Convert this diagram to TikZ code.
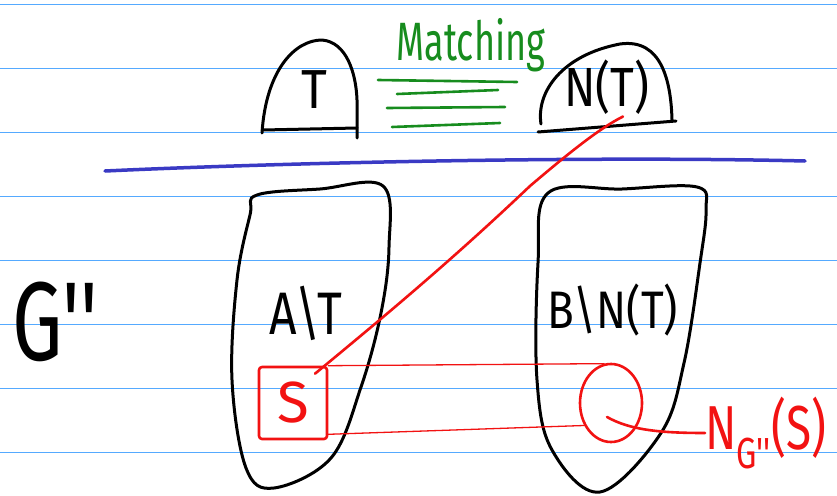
\documentclass[tikz,border=0pt]{standalone}
\usepackage{fontspec}
\setmainfont{Fira Sans}
\usetikzlibrary{shapes.geometric,calc}
\definecolor{rulecol}{HTML}{55AAFF}
\definecolor{sepcol}{HTML}{3A3AC4}
\definecolor{redpen}{HTML}{F21212}
\definecolor{greenpen}{HTML}{178C1E}
\newcommand{\fs}[1]{\fontsize{#1}{#1}\selectfont}
\begin{document}
\begin{tikzpicture}[x=1pt,y=-1pt,line cap=round,line join=round,
  blob/.style={draw=black,line width=3pt},
  redthick/.style={draw=redpen,line width=2.6pt},
  redthin/.style={draw=redpen,line width=1.3pt},
  greenstroke/.style={draw=greenpen,line width=2.6pt},
  lbl/.style={inner sep=0pt,text=black},
  redlbl/.style={inner sep=0pt,text=redpen}]
\useasboundingbox (0,0) rectangle (837,495);
\fill[white] (0,0) rectangle (837,495);
\foreach \y in {4.5,68.5,132.5,196.5,260.5,324.5,388.5,452.5}
  \draw[rulecol,line width=1.3pt] (0,\y) -- (837,\y);
% separator
\draw[sepcol,line width=3.5pt] (105,171) .. controls (300,162) and (600,156) .. (805,161);
% T dome
\draw[blob] (262,133) .. controls (266,70) and (295,40) .. (322,40)
  .. controls (346,42) and (356,72) .. (357,100) -- (357,138);
\draw[blob] (263,130) -- (357,128);
% N(T) dome
\draw[blob] (541,124) .. controls (536,92) and (562,55) .. (620,44)
  .. controls (662,38) and (671,82) .. (672,120);
\draw[blob] (538,132) -- (676,121);
% labels top
\node[lbl,font=\fs{50}] (T) at (314,90) {\scalebox{1}[1.1]{T}};
\node[lbl,font=\fs{46}] (NT) at (607,87) {\scalebox{1}[1.2]{N(T)}};
% Matching
\node[inner sep=0pt,text=greenpen,font=\fs{36}] (M) at (471,45) {\scalebox{1}[1.5]{Matching}};
\draw[greenstroke] (378,80) -- (517,82);
\draw[greenstroke] (397,94) -- (498,90);
\draw[greenstroke] (387,108) -- (505,107);
\draw[greenstroke] (392,127) -- (500,123);
% left blob
\draw[blob] plot[smooth cycle,tension=0.6] coordinates
  {(257,195) (320,189) (383,186) (389,247) (381,313) (361,387) (331,458) (274,488) (246,468) (232,380) (237,280) (250,215)};
% right blob
\draw[blob] plot[smooth cycle,tension=0.6] coordinates
  {(548,193) (622,189) (697,187) (706,210) (700,263) (684,363) (661,433) (600,492) (552,450) (537,380) (538,263)};
% labels middle
\node[lbl,font=\fs{48}] (AT) at (306,313) {\scalebox{1}[1.25]{A\textbackslash T}};
\node[lbl,font=\fs{44}] (BNT) at (613,310) {\scalebox{1}[1.2]{B\textbackslash N(T)}};
\node[lbl,font=\fs{80}] (G) at (55,322) {\scalebox{1}[1.4]{G\textquotesingle\textquotesingle}};
% S square and Q ellipse
\node[redlbl,draw=redpen,line width=2.6pt,rounded corners=3pt,minimum width=68pt,minimum height=72pt,font=\fs{58}] (S) at (293,403) {S};
\node[draw=redpen,line width=2.6pt,ellipse,minimum width=62pt,minimum height=78pt,inner sep=0pt] (Q) at (611,403) {};
\node[redlbl,font=\fs{46},anchor=west] (NG) at (705,433) {\scalebox{1}[1.35]{N\textsubscript{G\textquotesingle\textquotesingle}(S)}};
% connectors
\draw[redthick] ($(S.north)+(22,8)$) .. controls (380,320) and (450,262) .. (530,186)
  .. controls (570,152) and (600,128) .. ($(NT.south)+(16,2)$);
\draw[redthin] (S.north east) -- (Q.100);
\draw[redthin] ($(S.south east)+(0,-6)$) -- (Q.220);
\draw[redthick] ($(Q.center)+(-4,14)$) .. controls (630,430) and (660,433) .. (NG.west);
\end{tikzpicture}
\end{document}
